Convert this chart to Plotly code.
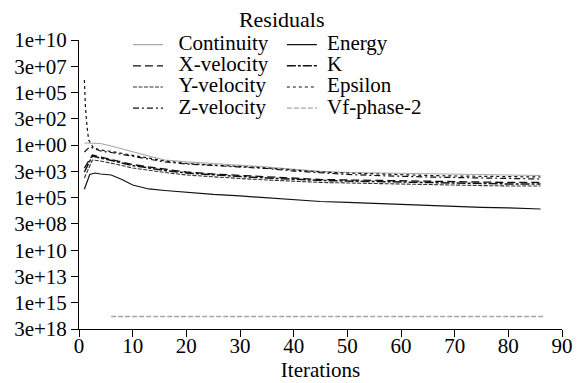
import plotly.graph_objects as go

# ---- data ----
iters_main = [1, 2, 3, 4, 6, 8, 10, 13, 16, 20, 25, 30, 35, 40, 45, 50, 55, 60, 65, 70, 75, 80, 86]
iters_mid = [1, 2.5, 4, 6, 8, 10, 13, 16, 20, 25, 30, 35, 40, 45, 50, 55, 60, 65, 70, 75, 80, 86]
iters_energy = [1, 2, 3, 4, 6, 8, 10, 13, 16, 20, 25, 30, 35, 40, 45, 50, 55, 60, 65, 68, 75, 80, 86]
iters_eps = [1, 1.2, 1.5, 1.8, 2.7, 4, 6, 8, 10, 13, 16, 20, 25, 30, 35, 40, 45, 50, 55, 60, 65, 70, 75, 80, 86]
iters_vf = [6, 20, 40, 60, 86.5]

continuity = [1.58, 1.58, 1.58, 1.42, 0.82, 0.43, 0.22, 0.092, 0.038, 0.025, 0.0177, 0.0128,
              0.0082, 0.0048, 0.0031, 0.00247, 0.00221, 0.00199, 0.00178, 0.0016, 0.00143, 0.00143, 0.00128]
energy = [6.2e-5, 0.0016, 0.00221, 0.00178, 0.00143, 0.00053, 0.00016, 6.7e-5, 4.8e-5, 3.1e-5, 2.0e-5,
          1.44e-5, 9.3e-6, 6.7e-6, 4.3e-6, 3.5e-6, 2.8e-6, 2.2e-6, 1.8e-6, 1.5e-6, 1.2e-6, 1.04e-6, 8.3e-7]
x_velocity = [0.0066, 0.114, 0.074, 0.043, 0.025, 0.0143, 0.0082, 0.0048, 0.00275, 0.00178, 0.00128,
              0.00092, 0.00066, 0.00053, 0.00048, 0.00043, 0.00038, 0.00034, 0.00031, 0.00031, 0.00028, 0.00028]
k_res = [0.00275, 0.092, 0.059, 0.034, 0.020, 0.0115, 0.0066, 0.0038, 0.00221, 0.00143, 0.00103,
         0.00074, 0.00053, 0.00043, 0.00038, 0.00034, 0.00031, 0.00025, 0.00022, 0.00022, 0.0002, 0.0002]
y_velocity = [0.00074, 0.038, 0.031, 0.020, 0.0115, 0.0066, 0.0038, 0.00247, 0.00143, 0.00092, 0.00066,
              0.00048, 0.00034, 0.00028, 0.00025, 0.00022, 0.0002, 0.00016, 0.00014, 0.00014, 0.00013, 0.00013]
epsilon = [1.55e6, 4.3e3, 52, 3.1, 0.53, 0.34, 0.246, 0.159, 0.102, 0.053, 0.031, 0.0177, 0.0128,
           0.0103, 0.0066, 0.0043, 0.00275, 0.00221, 0.00178, 0.00143, 0.00128, 0.00115, 0.00103, 0.00103, 0.00092]
z_velocity = [0.22, 0.66, 0.43, 0.275, 0.198, 0.127, 0.082, 0.043, 0.025, 0.0159, 0.0115, 0.0092,
              0.0059, 0.0034, 0.00221, 0.0016, 0.00128, 0.00103, 0.00092, 0.00083, 0.00074, 0.00066, 0.00059]
vf_phase2 = [4.9e-17, 4.9e-17, 4.9e-17, 4.9e-17, 4.9e-17]

y_tickvals = [1e10, 3.1623e7, 1e5, 316.23, 1, 3.1623e-3, 1e-5, 3.1623e-8, 1e-10, 3.1623e-13, 1e-15, 3.1623e-18]
y_ticktext = ["1e+10", "3e+07", "1e+05", "3e+02", "1e+00", "3e+03", "1e+05", "3e+08",
              "1e+10", "3e+13", "1e+15", "3e+18"]
x_tickvals = [0, 10, 20, 30, 40, 50, 60, 70, 80, 90]

FONT = "Liberation Serif"
NB = "\u00a0"

def lab(t, pad):
    return '<span style="font-size:21px">' + NB * pad + t + '</span>'

series = [
    # name, x, y, color, dash, width, legend, pad
    ("Continuity", iters_main, continuity, "#a6a6a6", "solid", 1.2, "legend", 2),
    ("Energy", iters_energy, energy, "#111111", "solid", 1.2, "legend2", 1),
    ("X-velocity", iters_mid, x_velocity, "#111111", "8px,4px", 1.3, "legend", 2),
    ("K", iters_mid, k_res, "#111111", "9px,2px,3px,2px", 1.5, "legend2", 1),
    ("Y-velocity", iters_mid, y_velocity, "#333333", "4px,1.5px", 1.1, "legend", 2),
    ("Epsilon", iters_eps, epsilon, "#111111", "3px,3px", 1.2, "legend2", 1),
    ("Z-velocity", iters_main, z_velocity, "#111111", "6px,3px,2px,3px", 1.2, "legend", 2),
    ("Vf-phase-2", iters_vf, vf_phase2, "#a6a6a6", "5px,2px", 1.3, "legend2", 1),
]

fig = go.Figure()
for name, xs, ys, col, dash, w, lg, pad in series:
    fig.add_trace(go.Scatter(x=xs, y=ys, mode="lines", name=lab(name, pad),
                             line=dict(color=col, dash=dash, width=w), legend=lg))

axis_common = dict(showline=True, linecolor="black", linewidth=1, ticks="outside", ticklen=7,
                   tickcolor="black", showgrid=False, zeroline=False, automargin=False,
                   tickfont=dict(family=FONT, size=21, color="black"))

fig.update_layout(
    width=580, height=383,
    margin=dict(l=79, r=18, t=40, b=54, autoexpand=False),
    paper_bgcolor="white", plot_bgcolor="white",
    font=dict(family=FONT, size=21, color="black"),
    title=dict(text="Residuals", font=dict(family=FONT, size=22, color="black"),
               x=0.4197, xref="paper", xanchor="center", y=0.95, yref="container", yanchor="middle"),
    xaxis=dict(range=[0, 90], tickvals=x_tickvals, ticklabelstandoff=-9,
               title=dict(text="Iterations", font=dict(family=FONT, size=21), standoff=0),
               **axis_common),
    yaxis=dict(type="log", range=[-17.5, 10], tickvals=y_tickvals, ticktext=y_ticktext, **axis_common),
    legend=dict(x=0.1014, y=1.038, xanchor="left", yanchor="top", bgcolor="rgba(0,0,0,0)",
                font=dict(family=FONT, size=14, color="black"), itemwidth=30, tracegroupgap=0),
    legend2=dict(x=0.420, y=1.038, xanchor="left", yanchor="top", bgcolor="rgba(0,0,0,0)",
                 font=dict(family=FONT, size=14, color="black"), itemwidth=30, tracegroupgap=0),
    showlegend=True,
)

fig.write_html("out.html")
